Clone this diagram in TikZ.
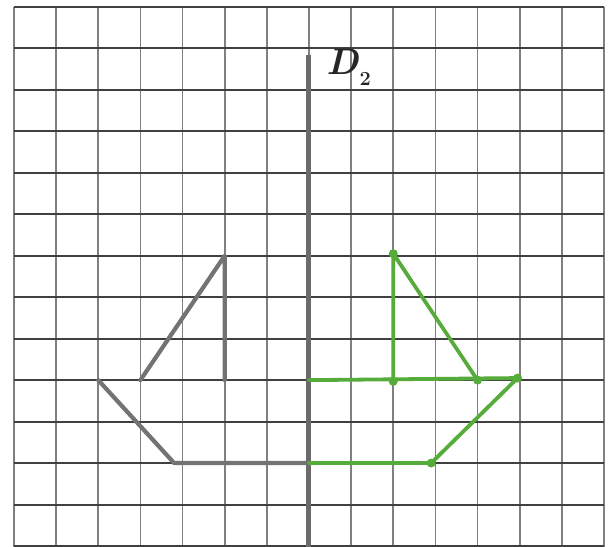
\documentclass[tikz,border=0pt]{standalone}
\begin{document}
\begin{tikzpicture}[x=42.14pt, y=41.46pt,
  hline/.style={draw=black!75, line width=2pt},
  vline/.style={draw=black!50, line width=1.7pt},
  axisline/.style={draw=black!58, line width=5pt},
  grayshape/.style={draw=black!55, line width=4.2pt, line join=round, line cap=round},
  greenshape/.style={draw=figgreen, line width=3.8pt, line join=round, line cap=round},
  gdot/.style={fill=figgreen, draw=none, circle, minimum size=9pt, inner sep=0pt}]
\definecolor{figgreen}{RGB}{86,172,58}
\useasboundingbox[fill=white] (-0.3322,-0.0241) rectangle (14.2383,13.169);
% grid
\foreach \i in {0,...,14} \draw[vline] (\i,-0.1) -- (\i,13);
\foreach \j in {0,...,13} \draw[hline] (0,\j) -- (14,\j);
% axis
\coordinate (axb) at (7,-0.1);
\coordinate (axt) at (7,11.84);
\draw[axisline] (axb) -- (axt);
\node[anchor=base west, inner sep=0pt, text=black!85, font=\fontsize{37}{39}\selectfont] (lab) at (7.42,11.38) {\textit{\bfseries D}\raisebox{-0.3em}{\fontsize{20}{22}\selectfont\bfseries 2}};
% gray (reflected) figure
\coordinate (A1) at (5,7);
\coordinate (A2) at (5,4);
\coordinate (A3) at (3,4);
\coordinate (B1) at (2,4);
\coordinate (B2) at (3.8,2);
\coordinate (B3) at (7,2);
\draw[grayshape] (A3) -- (A1) -- (A2);
\draw[grayshape] (B1) -- (B2) -- (B3);
% green figure
\coordinate (G1) at (9,7.05);
\coordinate (G2) at (9,3.97);
\coordinate (G3) at (11,4);
\coordinate (G4) at (11.95,4.05);
\coordinate (G5) at (9.9,2);
\coordinate (G6) at (7,2);
\coordinate (G7) at (7,4);
\draw[greenshape] (G2) -- (G1) -- (G3);
\draw[greenshape] (G7) -- (G4) -- (G5) -- (G6);
\foreach \p in {G1,G2,G3,G4,G5} \node[gdot] at (\p) {};
\end{tikzpicture}
\end{document}
